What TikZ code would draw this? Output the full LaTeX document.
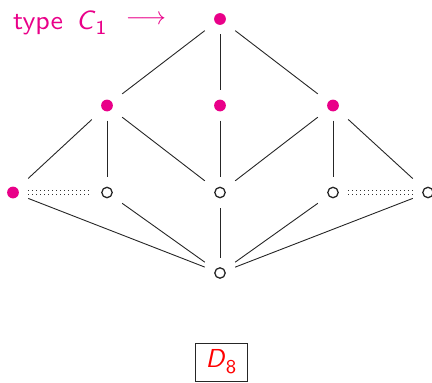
\documentclass[tikz,border=0pt]{standalone}
\usepackage{tikz}
\usepackage{graphicx}
\definecolor{mag}{RGB}{233,0,137}
\tikzset{
  vnode/.style={rectangle, minimum width=30pt, minimum height=30pt, inner sep=0pt},
  fullnode/.style={vnode, path picture={\fill[mag] (path picture bounding box.center) circle (5.9pt);}},
  opennode/.style={vnode, path picture={\draw[line width=1.3pt, black!85] (path picture bounding box.center) circle (5.2pt);}},
  edge/.style={line width=0.9pt, black!85},
  dotline/.style={line width=0.8pt, dash pattern=on 0.8pt off 3.2pt, black!80},
  labtext/.style={anchor=base west, inner sep=0pt, text=mag, font=\fontsize{10}{12}\selectfont\sffamily},
}
\begin{document}
\begin{tikzpicture}[x=1pt,y=-1pt]
\useasboundingbox (0,0) rectangle (432,383);
\node[fullnode] (T) at (220,19) {};
\node[fullnode] (M1) at (107,105.5) {};
\node[fullnode] (M2) at (220,105.5) {};
\node[fullnode] (M3) at (333,105.5) {};
\node[fullnode] (L1) at (13,192.5) {};
\node[opennode] (L2) at (107,192.5) {};
\node[opennode] (L3) at (220,192.5) {};
\node[opennode] (L4) at (333,192.5) {};
\node[opennode] (L5) at (428,192.5) {};
\node[opennode] (B) at (220,273) {};
\foreach \a/\b in {T/M1,T/M2,T/M3,M1/L1,M1/L2,M1/L3,M2/L3,M3/L3,M3/L4,M3/L5,B/L1,B/L2,B/L3,B/L4,B/L5}
  \draw[edge] (\a) -- (\b);
\foreach \s in {-1.7,1.7}{
  \draw[dotline] ([yshift=\s pt]L1.east) -- ([yshift=\s pt]L2.west);
  \draw[dotline] ([yshift=\s pt]L4.east) -- ([yshift=\s pt]L5.west);
}
\node[labtext] (lab) at (13,29) {\scalebox{2.8}[2.65]{type}};
\node[labtext] (labc) at (76,29)
  {\scalebox{2.7}[2.65]{\textit{C}\raisebox{-0.22em}{\fontsize{7.5}{8}\selectfont 1}}};
\node[inner sep=0pt, text=mag, font=\fontsize{26}{30}\selectfont] (arr) at (146,20) {$\longrightarrow$};
\node[draw, line width=0.8pt, black!85, minimum width=52pt, minimum height=38pt, inner sep=0pt,
  font=\fontsize{10}{12}\selectfont\sffamily] (d8) at (221,362)
  {\textcolor{red}{\scalebox{2.6}{\textit{D}\raisebox{-0.22em}{\fontsize{7.5}{8}\selectfont 8}}}};
\end{tikzpicture}
\end{document}
